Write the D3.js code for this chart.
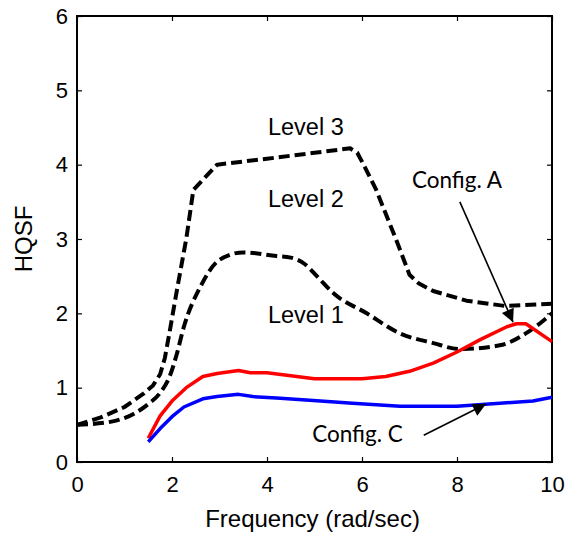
<!DOCTYPE html>
<html><head><meta charset="utf-8">
<script src="https://cdn.jsdelivr.net/npm/d3@7"></script>
<style>body{margin:0;background:#fff}svg{display:block}</style>
</head><body>
<svg id="c" width="567" height="533"></svg>
<script>
const xTicks = [0, 2, 4, 6, 8, 10];
const yTicks = [0, 1, 2, 3, 4, 5, 6];

const level3Freq = [0,0.5,1.0,1.4,1.6,1.75,1.85,1.95,2.1,2.3,2.45,2.95,4,5,5.75,5.9,6.05,6.3,6.75,7.0,7.2,7.5,8.2,9.0,10];
const level3Vals = [0.5,0.6,0.74,0.92,1.03,1.18,1.4,1.75,2.3,3.0,3.66,4.0,4.08,4.16,4.22,4.16,3.98,3.66,2.94,2.52,2.4,2.3,2.17,2.1,2.13];

const level2Freq = [0,0.7,1.2,1.5,1.75,1.95,2.1,2.25,2.6,3.0,3.5,4.2,4.5,4.8,5.05,5.4,6.1,6.8,7.5,8.05,8.9,9.5,10];
const level2Vals = [0.5,0.54,0.65,0.78,0.93,1.15,1.45,1.82,2.36,2.72,2.82,2.77,2.75,2.66,2.5,2.27,2.0,1.73,1.6,1.52,1.57,1.75,2.0];

const configAFreq = [1.5,1.75,2.0,2.3,2.65,2.95,3.4,3.65,4.0,4.5,5,6,6.5,7,7.5,8,8.5,9.05,9.25,9.45,10];
const configAVals = [0.32,0.62,0.82,1.0,1.15,1.19,1.23,1.2,1.2,1.16,1.12,1.12,1.15,1.22,1.33,1.48,1.65,1.82,1.86,1.86,1.62];

const configCFreq = [1.5,1.75,2.0,2.25,2.65,2.95,3.4,3.7,4.2,4.9,5.8,6.8,8.0,8.9,9.6,10];
const configCVals = [0.27,0.45,0.61,0.74,0.85,0.88,0.91,0.88,0.86,0.83,0.79,0.75,0.75,0.79,0.82,0.87];

const levelLabels = [
  {text: "Level 3", x: 4.02, y: 4.40},
  {text: "Level 2", x: 4.02, y: 3.43},
  {text: "Level 1", x: 4.02, y: 1.87}
];
const configLabels = [
  {text: "Config. A", x: 7.05, y: 3.69},
  {text: "Config. C", x: 4.95, y: 0.27}
];
const arrows = [
  {x1: 8.06, y1: 3.5, x2: 9.18, y2: 1.88},
  {x1: 7.3, y1: 0.36, x2: 8.61, y2: 0.78}
];

const W = 567, H = 533;
const m = {left: 77, right: 15, top: 16, bottom: 71};
const svg = d3.select("#c");
const x = d3.scaleLinear().domain([0, 10]).range([m.left, W - m.right]);
const y = d3.scaleLinear().domain([0, 6]).range([H - m.bottom, m.top]);

const font = "'Liberation Sans', Arial, sans-serif";

svg.append("defs").append("marker")
  .attr("id", "ah").attr("viewBox", "0 0 10 10").attr("refX", 10).attr("refY", 5)
  .attr("markerWidth", 16).attr("markerHeight", 13).attr("markerUnits", "userSpaceOnUse")
  .attr("orient", "auto")
  .append("path").attr("d", "M0,0 L10,5 L0,10 Z").attr("fill", "#000");

function styleAxis(g, labels) {
  g.select(".domain").remove();
  g.selectAll(".tick line").attr("stroke", "#000").attr("stroke-width", 1.2);
  g.selectAll("text").attr("font-family", font).attr("font-size", 22).attr("fill", "#000");
  if (!labels) g.selectAll("text").remove();
}
svg.append("g").attr("transform", `translate(0,${H - m.bottom})`)
  .call(d3.axisBottom(x).tickValues(xTicks).tickSize(-5).tickPadding(14).tickFormat(d3.format("d")))
  .call(g => styleAxis(g, true));
svg.append("g").attr("transform", `translate(0,${m.top})`)
  .call(d3.axisTop(x).tickValues(xTicks).tickSize(-5))
  .call(g => styleAxis(g, false));
svg.append("g").attr("transform", `translate(${m.left},0)`)
  .call(d3.axisLeft(y).tickValues(yTicks).tickSize(-5).tickPadding(9).tickFormat(d3.format("d")))
  .call(g => styleAxis(g, true));
svg.append("g").attr("transform", `translate(${W - m.right},0)`)
  .call(d3.axisRight(y).tickValues(yTicks).tickSize(-5))
  .call(g => styleAxis(g, false));

svg.append("rect").attr("x", m.left).attr("y", m.top)
  .attr("width", W - m.left - m.right).attr("height", H - m.top - m.bottom)
  .attr("fill", "none").attr("stroke", "#000").attr("stroke-width", 2);

const mk = (fx, vy) => fx.map((f, i) => [f, vy[i]]);
const smooth = d3.line().x(d => x(d[0])).y(d => y(d[1])).curve(d3.curveMonotoneX);
const lin = d3.line().x(d => x(d[0])).y(d => y(d[1]));

svg.append("path").attr("d", lin(mk(level3Freq, level3Vals))).attr("fill", "none")
  .attr("stroke", "#000").attr("stroke-width", 4).attr("stroke-dasharray", "11,5").attr("stroke-linejoin", "round");
svg.append("path").attr("d", smooth(mk(level2Freq, level2Vals))).attr("fill", "none")
  .attr("stroke", "#000").attr("stroke-width", 4).attr("stroke-dasharray", "11,5");
svg.append("path").attr("d", lin(mk(configAFreq, configAVals))).attr("fill", "none")
  .attr("stroke", "#ff0000").attr("stroke-width", 3.5).attr("stroke-linejoin", "round");
svg.append("path").attr("d", lin(mk(configCFreq, configCVals))).attr("fill", "none")
  .attr("stroke", "#0000ff").attr("stroke-width", 3.5).attr("stroke-linejoin", "round");

arrows.forEach(a => {
  svg.append("line").attr("x1", x(a.x1)).attr("y1", y(a.y1)).attr("x2", x(a.x2)).attr("y2", y(a.y2))
    .attr("stroke", "#000").attr("stroke-width", 1.6).attr("marker-end", "url(#ah)");
});

levelLabels.forEach(l => {
  svg.append("text").attr("x", x(l.x)).attr("y", y(l.y)).text(l.text)
    .attr("font-family", font).attr("font-size", 23.5).attr("fill", "#000");
});
configLabels.forEach(l => {
  svg.append("text").attr("x", x(l.x)).attr("y", y(l.y)).text(l.text)
    .attr("font-family", "Lato, 'Open Sans', sans-serif").attr("font-size", 22.5).attr("fill", "#000");
});

svg.append("text").attr("x", (m.left + W - m.right) / 2 - 2).attr("y", 527)
  .attr("text-anchor", "middle").attr("font-family", font).attr("font-size", 24).text("Frequency (rad/sec)");
svg.append("text").attr("transform", `translate(32,${(m.top + H - m.bottom) / 2})rotate(-90)`)
  .attr("text-anchor", "middle").attr("font-family", font).attr("font-size", 24).text("HQSF");
</script>
</body></html>
